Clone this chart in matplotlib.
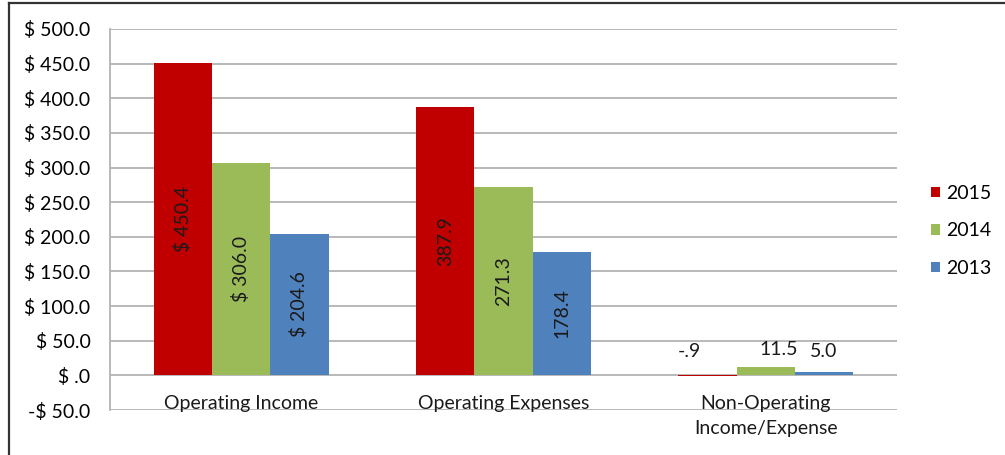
import matplotlib
matplotlib.use("Agg")
import matplotlib.pyplot as plt
from matplotlib.lines import Line2D
from matplotlib.patches import Patch
import numpy as np

plt.rcParams['font.family'] = ['Lato', 'DejaVu Sans']

categories = ["Operating Income", "Operating Expenses", "Non-Operating\nIncome/Expense"]
series_names = ["2015", "2014", "2013"]
values_2015 = [450.4, 387.9, -0.9]
values_2014 = [306.0, 271.3, 11.5]
values_2013 = [204.6, 178.4, 5.0]
labels_2015 = ["$ 450.4", "387.9", "-.9"]
labels_2014 = ["$ 306.0", "271.3", "11.5"]
labels_2013 = ["$ 204.6", "178.4", "5.0"]
yticks = [500, 450, 400, 350, 300, 250, 200, 150, 100, 50, 0, -50]
ytick_labels = ["$ 500.0", "$ 450.0", "$ 400.0", "$ 350.0", "$ 300.0", "$ 250.0",
                "$ 200.0", "$ 150.0", "$ 100.0", "$ 50.0", "$ .0", "-$ 50.0"]
colors = ["#C00000", "#9BBB59", "#4F81BD"]

FS = 14
fig = plt.figure(figsize=(10.05, 4.55), dpi=100)
ax = fig.add_axes([110/1005, 1-410/455, (897-110)/1005, (410-29)/455])

x = np.arange(len(categories))
w = 0.222
all_vals = [values_2015, values_2014, values_2013]
all_labels = [labels_2015, labels_2014, labels_2013]
for i, (vals, labs, c, name) in enumerate(zip(all_vals, all_labels, colors, series_names)):
    pos = x + (i - 1) * w
    ax.bar(pos, vals, width=w, color=c, label=name, zorder=3)
    for j in range(2):
        ax.text(pos[j], vals[j] / 2, labs[j], rotation=90, ha='center', va='center',
                fontsize=FS, color='#1a1a1a', zorder=4)
# small-value group labels above
offs = [-0.07, 0.05, 0.0]
for i, (vals, labs) in enumerate(zip(all_vals, all_labels)):
    pos = x[2] + (i - 1) * w + offs[i]
    ax.text(pos, 35 if i != 1 else 37, labs[2], ha='center', va='center', fontsize=FS,
            color='#1a1a1a', zorder=4)

ax.set_xlim(-0.5, 2.5)
ax.set_ylim(-50, 500)
ax.set_yticks(yticks)
ax.set_yticklabels(ytick_labels, fontsize=FS)
ax.tick_params(axis='y', length=0, pad=14)
ax.set_xticks([])
ax.yaxis.grid(True, color='#B3B3B3', linewidth=1.3, zorder=0)
for s in ['top', 'right', 'bottom']:
    ax.spines[s].set_visible(False)
ax.spines['left'].set_color('#B3B3B3')
ax.spines['left'].set_linewidth(1.3)

for xi, cat in zip(x, categories):
    ax.annotate(cat, xy=(xi, 0), xytext=(0, -14), textcoords='offset points',
                ha='center', va='top', fontsize=FS, color='#1a1a1a', linespacing=1.6,
                annotation_clip=False)

handles = [Patch(facecolor=c, edgecolor='none') for c in colors]
fig.legend(handles, series_names, loc='center left', bbox_to_anchor=(931/1005, 1-231/455),
           frameon=False, fontsize=FS, handlelength=0.45, handleheight=0.45,
           handletextpad=0.35, labelspacing=1.05, borderpad=0, borderaxespad=0)

fig.add_artist(Line2D([9/1005, 9/1005], [0, 1-3/455], color='#333333', linewidth=1.6))
fig.add_artist(Line2D([9/1005, 1], [1-3/455, 1-3/455], color='#333333', linewidth=1.6))

fig.savefig("out.png", dpi=100)
